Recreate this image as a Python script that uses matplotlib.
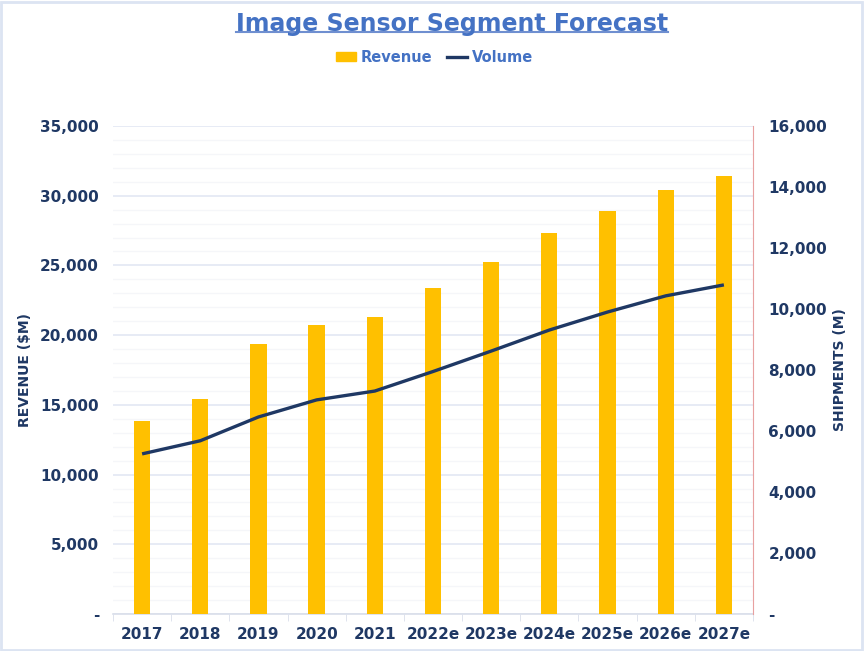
import numpy as np
import matplotlib
matplotlib.use('Agg')
import matplotlib.pyplot as plt
from matplotlib.ticker import FuncFormatter, MultipleLocator
from matplotlib.lines import Line2D
from matplotlib.patches import Patch, Rectangle

years = ['2017', '2018', '2019', '2020', '2021', '2022e', '2023e', '2024e', '2025e', '2026e', '2027e']
revenue = [13850, 15450, 19350, 20700, 21300, 23350, 25250, 27300, 28900, 30400, 31400]
volume = [5250, 5680, 6460, 7020, 7310, 7950, 8620, 9310, 9900, 10430, 10790]

navy = '#1F3864'
blue = '#4472C4'
gold = '#FFC000'

plt.rcParams['font.family'] = ['DejaVu Sans']
plt.rcParams['font.weight'] = 'bold'

fig = plt.figure(figsize=(8.64, 6.51), dpi=100)
ax = fig.add_axes([0.1308, 0.0568, 0.7407, 0.7497])
ax2 = ax.twinx()

x = np.arange(len(years))
ax.bar(x, revenue, width=0.28, color=gold, zorder=3)
ax2.plot(x, volume, color=navy, lw=2.4, solid_capstyle='butt', zorder=4)

ax.set_xlim(-0.5, len(years) - 0.5)
ax.set_ylim(0, 35000)
ax2.set_ylim(0, 16000)

fmt = FuncFormatter(lambda v, p: '-' if v == 0 else f'{v:,.0f}')
ax.yaxis.set_major_locator(MultipleLocator(5000))
ax.yaxis.set_minor_locator(MultipleLocator(1000))
ax.yaxis.set_major_formatter(fmt)
ax2.yaxis.set_major_locator(MultipleLocator(2000))
ax2.yaxis.set_major_formatter(fmt)

ax.grid(axis='y', which='major', color='#E3E8F4', lw=1.2, zorder=0)
ax.grid(axis='y', which='minor', color='#F5F6F9', lw=1.0, zorder=0)
ax.set_axisbelow(True)

ax.set_xticks(x)
ax.set_xticklabels(years)
ax.set_xticks(np.arange(-0.5, len(years)), minor=True)
ax.tick_params(axis='x', which='major', length=0, pad=9, labelsize=11, labelcolor=navy)
ax.tick_params(axis='x', which='minor', length=5, color='#D9DEEA')
ax.tick_params(axis='y', which='both', length=0, pad=10, labelsize=11, labelcolor=navy)
ax2.tick_params(axis='y', length=0, pad=11, labelsize=11, labelcolor=navy)

for s in ['top', 'left']:
    ax.spines[s].set_visible(False)
    ax2.spines[s].set_visible(False)
ax.spines['right'].set_visible(False)
ax2.spines['right'].set_color('#E8A0A0')
ax2.spines['right'].set_linewidth(0.8)
ax2.spines['bottom'].set_visible(False)
ax.spines['bottom'].set_color('#D9DEEA')
ax.spines['bottom'].set_linewidth(1.2)

ax.set_ylabel('REVENUE ($M)', color=navy, fontsize=10, fontweight='bold')
ax.yaxis.set_label_coords(-0.127, 0.5)
ax2.set_ylabel('SHIPMENTS (M)', color=navy, fontsize=10, fontweight='bold')
ax2.yaxis.set_label_coords(1.125, 0.5)

title = fig.text(0.523, 0.963, 'Image Sensor Segment Forecast', ha='center', va='center',
                 fontsize=17, fontweight='bold', color=blue)

handles = [Patch(color=gold), Line2D([0], [0], color=navy, lw=2.4)]
leg = fig.legend(handles, ['Revenue', 'Volume'], loc='center', bbox_to_anchor=(0.503, 0.912),
                 ncol=2, frameon=False, fontsize=10.5, handlelength=1.4, handleheight=0.5,
                 handletextpad=0.3, columnspacing=1.0)
for t in leg.get_texts():
    t.set_color(blue)
    t.set_fontweight('bold')

# underline the title
fig.canvas.draw()
bb = title.get_window_extent().transformed(fig.transFigure.inverted())
fig.add_artist(Line2D([bb.x0, bb.x1], [bb.y0 + 0.006, bb.y0 + 0.006], color='#6F8FD0', lw=1.5,
                      transform=fig.transFigure))

# light border around the chart
fig.add_artist(Rectangle((0.001, 0.002), 0.997, 0.995, transform=fig.transFigure,
                         fill=False, edgecolor='#DCE4F2', lw=2))

fig.savefig('out.png', dpi=100)
